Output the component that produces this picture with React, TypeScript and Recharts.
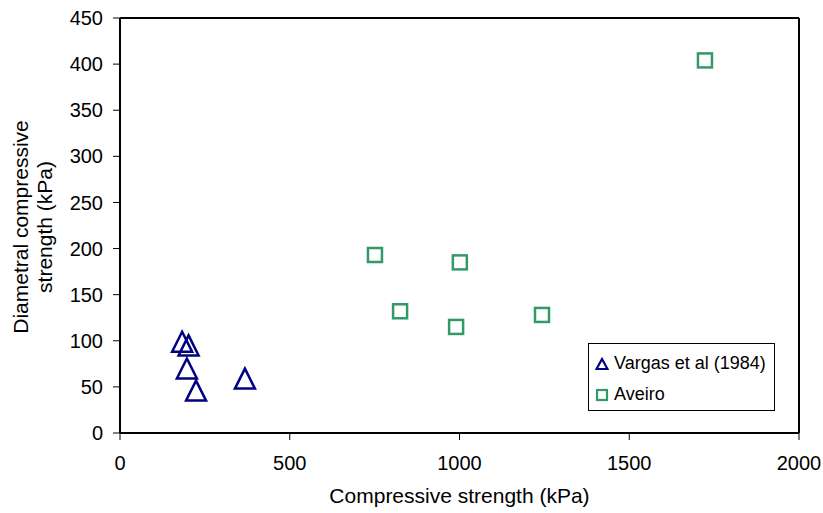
import React from "react";
import {
  ScatterChart,
  Scatter,
  XAxis,
  YAxis,
  ReferenceLine,
  Legend,
} from "recharts";

// (kPa)
const vargasX = [183, 202, 197, 224, 368];
const vargasY = [99, 95, 70, 46, 59];
const aveiroX = [751, 1001, 825, 990, 1243, 1723];
const aveiroY = [193, 185, 132, 115, 128, 404];

const xTicks = [0, 500, 1000, 1500, 2000];
const yTicks = [0, 50, 100, 150, 200, 250, 300, 350, 400, 450];

const vargas = vargasX.map((x, i) => ({ x, y: vargasY[i] }));
const aveiro = aveiroX.map((x, i) => ({ x, y: aveiroY[i] }));

const NAVY = "#000080";
const GREEN = "#339966";
const FONT = "'Liberation Sans', Arial, sans-serif";

function Triangle(props: any) {
  const { cx, cy } = props;
  if (cx == null || cy == null) return null;
  const w = 10;
  const h = 10;
  const pts = `${cx},${cy - h} ${cx + w},${cy + h} ${cx - w},${cy + h}`;
  return (
    <polygon points={pts} fill="none" stroke={NAVY} strokeWidth={2.5} strokeLinejoin="miter" />
  );
}

function Square(props: any) {
  const { cx, cy } = props;
  if (cx == null || cy == null) return null;
  return (
    <rect x={cx - 7} y={cy - 7} width={14} height={14} fill="none" stroke={GREEN} strokeWidth={2.5} />
  );
}

function YLabel() {
  const cx = 34;
  const cy = 227;
  return (
    <text
      transform={`translate(${cx},${cy}) rotate(-90)`}
      textAnchor="middle"
      fontSize={21}
      fontFamily={FONT}
      fill="#000"
    >
      <tspan x={0} y={-6}>Diametral compressive</tspan>
      <tspan x={0} y={18}>strength (kPa)</tspan>
    </text>
  );
}

function LegendBox() {
  const rows = [
    { name: "Vargas et al (1984)", kind: "tri" },
    { name: "Aveiro", kind: "sq" },
  ];
  return (
    <div
      style={{
        width: 185,
        height: 62,
        border: "1px solid #000",
        background: "#fff",
        fontFamily: FONT,
        fontSize: 18,
        color: "#000",
        boxSizing: "content-box",
        paddingTop: 4,
      }}
    >
      {rows.map((r) => (
        <div key={r.name} style={{ display: "flex", alignItems: "center", height: 31, paddingLeft: 6 }}>
          <svg width={14} height={14} style={{ marginRight: 5 }}>
            {r.kind === "tri" ? (
              <polygon points="7,2 12.5,12 1.5,12" fill="none" stroke={NAVY} strokeWidth={2.2} />
            ) : (
              <rect x={2} y={2} width={10} height={10} fill="none" stroke={GREEN} strokeWidth={2.2} />
            )}
          </svg>
          <span>{r.name}</span>
        </div>
      ))}
    </div>
  );
}

export default function App() {
  return (
    <div style={{ position: "absolute", left: 0, top: 0, width: 823, height: 513, background: "#fff" }}>
      <ScatterChart
        width={823}
        height={513}
        margin={{ top: 18, right: 24, left: 60, bottom: 5 }}
        style={{ fontFamily: FONT }}
      >
        <XAxis
          type="number"
          dataKey="x"
          domain={[0, 2000]}
          ticks={xTicks}
          height={75}
          tickSize={7}
          tickMargin={16}
          axisLine={{ stroke: "#000", strokeWidth: 2 }}
          tickLine={{ stroke: "#000", strokeWidth: 1 }}
          tick={{ fill: "#000", fontSize: 20, fontFamily: FONT }}
          label={{
            value: "Compressive strength (kPa)",
            position: "insideBottom",
            offset: 5,
            fill: "#000",
            fontSize: 21,
            fontFamily: FONT,
          }}
        />
        <YAxis
          type="number"
          dataKey="y"
          domain={[0, 450]}
          ticks={yTicks}
          width={60}
          tickSize={7}
          tickMargin={10}
          axisLine={{ stroke: "#000", strokeWidth: 2 }}
          tickLine={{ stroke: "#000", strokeWidth: 1 }}
          tick={{ fill: "#000", fontSize: 20, fontFamily: FONT }}
          label={{ content: <YLabel /> }}
        />
        <ReferenceLine y={450} stroke="#000" strokeWidth={2} />
        <ReferenceLine x={2000} stroke="#000" strokeWidth={2} />
        <Legend
          layout="vertical"
          align="center"
          verticalAlign="middle"
          content={<LegendBox />}
          wrapperStyle={{ left: 588, top: 343, width: 187, height: 68 }}
        />
        <Scatter name="Vargas et al (1984)" data={vargas} shape={<Triangle />} isAnimationActive={false} />
        <Scatter name="Aveiro" data={aveiro} shape={<Square />} isAnimationActive={false} />
      </ScatterChart>
    </div>
  );
}
